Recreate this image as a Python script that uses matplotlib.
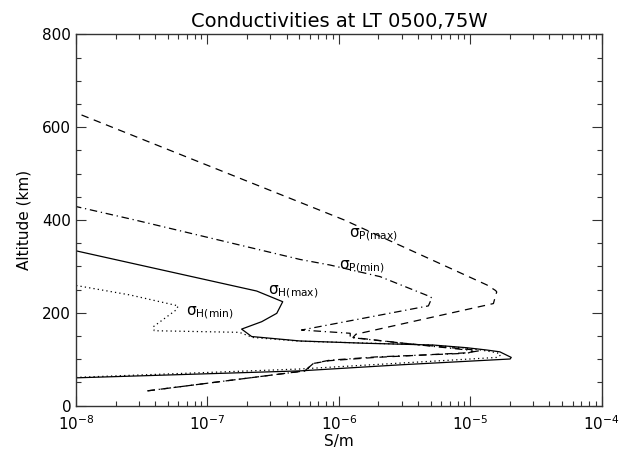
import matplotlib
matplotlib.use("Agg")
import matplotlib.pyplot as plt
from matplotlib.ticker import LogLocator, MultipleLocator, FixedLocator

plt.rcParams['font.family'] = ['DejaVu Sans']
plt.rcParams['mathtext.default'] = 'regular'

# ---- data ----
# sigma_P(max), dashed
pmax_val = [3.5e-8, 5.5e-7, 6.4e-7, 8.5e-7, 1.9e-6, 9.5e-6, 1.15e-5, 1.0e-5, 3.0e-6, 1.28e-6,
            1.35e-6, 1.5e-5, 1.56e-5, 1.59e-5, 1.56e-5, 1.34e-5, 1.1e-6, 1.0e-8]
pmax_alt = [32, 75, 91, 97, 104, 114, 118, 121, 135, 147,
            154, 220, 238, 245, 248, 260, 400, 631]

# sigma_P(min), dash-dot
pmin_val = [3.5e-8, 5.5e-7, 6.4e-7, 8.5e-7, 1.9e-6, 9.5e-6, 1.05e-5, 9.5e-6, 3.0e-6, 1.22e-6,
            1.22e-6, 5.2e-7, 4.8e-6, 5.1e-6, 4.94e-6, 2.06e-6, 8.57e-7, 5.07e-7, 2.81e-8, 1.0e-8]
pmin_alt = [32, 75, 91, 98, 105, 113, 117, 120, 135, 147,
            156, 163, 215, 232, 235, 278, 303, 315, 400, 429]

# sigma_H(max), solid
hmax_val = [1.0e-8, 5.07e-7, 2.92e-6, 2.01e-5, 2.05e-5, 1.68e-5, 1.33e-5, 9.3e-6, 5.2e-6,
            1.63e-6, 5.07e-7, 2.17e-7, 1.82e-7, 2.59e-7, 3.37e-7, 3.74e-7, 2.37e-7, 1.0e-8]
hmax_alt = [60, 75, 88, 100.6, 104, 116, 120, 125, 130.7,
            134.4, 139.4, 149, 165, 181, 199, 224, 247, 333.6]

# sigma_H(min), dotted
hmin_val = [1.0e-8, 5.0e-7, 1.6e-5, 1.7e-5, 1.6e-5, 1.2e-5, 8.5e-6, 4.8e-6, 5.0e-7, 2.21e-7,
            1.99e-7, 1.75e-7, 3.94e-8, 3.87e-8, 5.76e-8, 6.0e-8, 2.58e-8, 1.0e-8]
hmin_alt = [61, 79, 104, 109, 114, 120, 125, 131, 139, 147,
            152, 158, 161.5, 170, 206, 215, 238.5, 259]

labels = [r'$\sigma_{P(max)}$', r'$\sigma_{P(min)}$', r'$\sigma_{H(max)}$', r'$\sigma_{H(min)}$']
label_pos = [(1.2e-6, 368), (1.0e-6, 300), (2.9e-7, 246), (6.9e-8, 201)]

xtick_vals = [1e-8, 1e-7, 1e-6, 1e-5, 1e-4]
xtick_labels = [r'$10^{-8}$', r'$10^{-7}$', r'$10^{-6}$', r'$10^{-5}$', r'$10^{-4}$']
ytick_vals = [0, 200, 400, 600, 800]

# ---- figure ----
W, H = 629, 453
fig = plt.figure(figsize=(W / 100, H / 100), dpi=100)
ax = fig.add_axes([76 / W, (H - 405.7) / H, 525.7 / W, 371.4 / H])

lw = 0.9
ax.plot(pmax_val, pmax_alt, color='black', lw=lw, linestyle=(0, (6, 4.5)))
ax.plot(pmin_val, pmin_alt, color='black', lw=lw, linestyle=(0, (6, 3, 1, 3)))
ax.plot(hmax_val, hmax_alt, color='black', lw=lw, linestyle='-')
ax.plot(hmin_val, hmin_alt, color='black', lw=lw, linestyle=(0, (1, 2.5)))

for lab, (lx, ly) in zip(labels, label_pos):
    ax.text(lx, ly, lab, fontsize=11, ha='left', va='center', color='black')

ax.set_xscale('log')
ax.set_xlim(1e-8, 1e-4)
ax.set_ylim(0, 800)

ax.xaxis.set_major_locator(FixedLocator(xtick_vals))
ax.xaxis.set_minor_locator(LogLocator(base=10, subs=range(2, 10), numticks=20))
ax.set_xticks(xtick_vals)
ax.set_xticklabels(xtick_labels)
ax.yaxis.set_major_locator(FixedLocator(ytick_vals))
ax.yaxis.set_minor_locator(MultipleLocator(50))

ax.tick_params(which='both', direction='in', top=True, right=True, colors='#333333',
               labelcolor='black', labelsize=11)
ax.tick_params(which='major', length=7, width=0.8)
ax.tick_params(which='minor', length=3.5, width=0.8)
ax.tick_params(axis='x', which='major', pad=6)
for sp in ax.spines.values():
    sp.set_linewidth(1.0)
    sp.set_color('#333333')

ax.set_xlabel('S/m', fontsize=11, labelpad=1)
ax.set_ylabel('Altitude (km)', fontsize=11, labelpad=8)
ax.set_title('Conductivities at LT 0500,75W', fontsize=14, pad=5)

fig.savefig('out.png', dpi=100)
